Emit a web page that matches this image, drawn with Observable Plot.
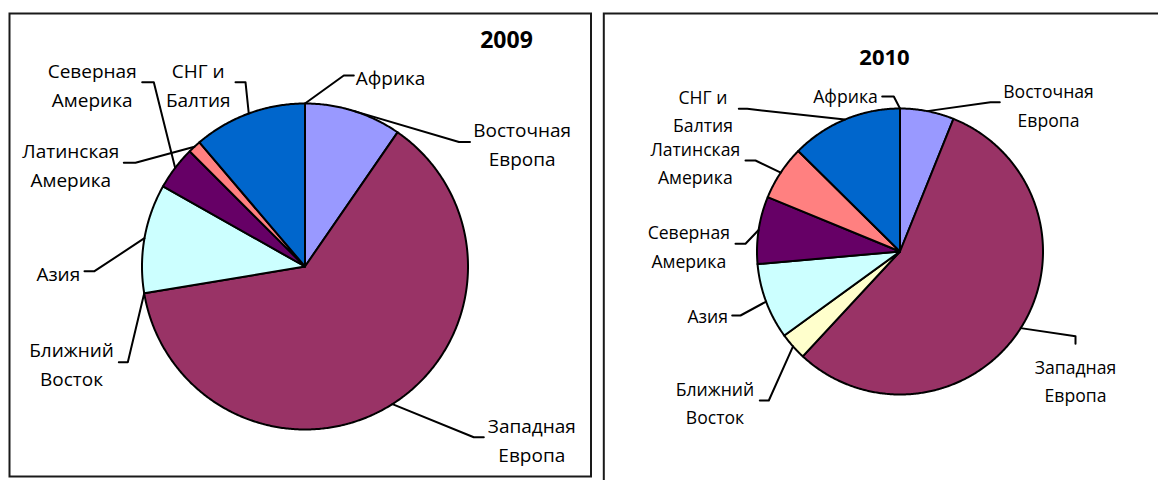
<!DOCTYPE html>
<html><head><meta charset="utf-8">
<script src="https://cdn.jsdelivr.net/npm/d3@7"></script>
<script src="https://cdn.jsdelivr.net/npm/@observablehq/plot@0.6"></script>
<style>
html,body{margin:0;padding:0;background:#fff;}
#wrap{display:flex;width:1158px;height:480px;overflow:hidden;}
#wrap>div{overflow:hidden;height:480px;flex:none;}
</style></head><body>
<div id="wrap"><div id="p2009"></div><div id="p2010"></div></div>
<script>
// ---- data ----
const regions = ["Восточная Европа", "Западная Европа", "Ближний Восток", "Азия",
                 "Северная Америка", "Латинская Америка", "СНГ и Балтия", "Африка"];
const colors = ["#9999FF", "#993366", "#FFFFCC", "#CCFFFF", "#660066", "#FF8080", "#0066CC", "#CCCCFF"];
const years = ["2009", "2010"];
const share2009 = [9.6, 62.7, 0, 10.8, 4.3, 1.3, 11.2, 0];
const share2010 = [6.1, 55.8, 3.1, 8.6, 7.6, 6.2, 12.6, 0];

// ---- layout (pixel offsets from the pie centre): label centre, elbow, stub end ----
const layout2009 = [
  [217.2, -124, 154, -124.5, 165, -124.5],
  [226.8, 172, 168.8, 170.7, 178.8, 170.7],
  [-233.5, 95.5, -177.2, 95.7, -186.2, 95.7],
  [-246.7, 4.7, -210.5, 4.7, -220.5, 4.7],
  [-212.8, -183.3, -151.2, -184.3, -162.8, -184.3],
  [-234.2, -103.3, -169.5, -103.7, -181.2, -103.7],
  [-106.8, -183.3, -59.5, -184.3, -69.5, -184.3],
  [85.5, -191, 38.8, -191, 48.8, -191]
];
const layout2010 = [
  [148.5, -148, 90.5, -149.3, 99.8, -149.3],
  [175.5, 127.4, 175.5, 84.7, 175.5, 92.3],
  [-185, 149.9, -131.2, 149, -140.2, 149],
  [-192.3, 62.2, -159.5, 64, -167.8, 64],
  [-211.2, -7, -154.5, -7.7, -164.5, -7.7],
  [-204.7, -90.6, -144.5, -91, -154.5, -91],
  [-197, -142.1, -152.8, -142.7, -161.2, -142.7],
  [-54.5, -157.8, -6.2, -155, -17.8, -155]
];

function splitLabel(s) { return s.replace(/ (?=[^ ]*$)/, "\n"); }

function pieChart(o) {
  const rows = regions.map((name, i) => ({name, value: o.shares[i], color: colors[i], i}));
  const arcs = d3.pie().sort(null).value(d => d.value)(rows);
  const slicePts = [], leaders = [], labels = [];
  arcs.forEach((a) => {
    const i = a.data.i;
    const span = a.endAngle - a.startAngle;
    if (span > 0) {
      slicePts.push({key: i, u: 0, v: 0, color: a.data.color});
      const n = Math.max(2, Math.ceil(span / (Math.PI / 360)));
      for (let k = 0; k <= n; k++) {
        const t = a.startAngle + span * k / n;
        slicePts.push({key: i, u: Math.sin(t), v: -Math.cos(t), color: a.data.color});
      }
    }
    const m = (a.startAngle + a.endAngle) / 2;
    const L = o.layout[i];
    leaders.push({key: i, u: Math.sin(m), v: -Math.cos(m)},
                 {key: i, u: L[2] / o.r, v: L[3] / o.r},
                 {key: i, u: L[4] / o.r, v: L[5] / o.r});
    labels.push({text: splitLabel(a.data.name), u: L[0] / o.r, v: L[1] / o.r});
  });
  return Plot.plot({
    width: o.width, height: 480,
    marginLeft: o.margins[0], marginTop: o.margins[1], marginRight: o.margins[2], marginBottom: o.margins[3],
    x: {domain: [-1, 1], range: [o.cx - o.r, o.cx + o.r], axis: null},
    y: {domain: [-1, 1], range: [o.cy - o.r, o.cy + o.r], axis: null},
    color: {type: "identity"},
    style: {fontFamily: "'Open Sans', sans-serif", background: "white", color: "black"},
    marks: [
      Plot.frame({stroke: "#1a1a1a", strokeWidth: 2}),
      Plot.line(slicePts, {x: "u", y: "v", z: "key", fill: "color", stroke: "black", strokeWidth: 2,
                           curve: "linear-closed", strokeLinejoin: "round"}),
      Plot.line(leaders, {x: "u", y: "v", z: "key", stroke: "black", strokeWidth: 2}),
      Plot.text(labels, {x: "u", y: "v", text: "text", fontSize: o.fontSize, lineHeight: o.lineHeight,
                         fill: "black", textAnchor: "middle"}),
      Plot.text([o.year], {x: o.title[0] / o.r, y: o.title[1] / o.r, text: d => d, fontSize: o.titleSize,
                           fontWeight: "bold", fill: "black", textAnchor: "middle"})
    ]
  });
}

document.getElementById("p2009").append(pieChart({
  year: years[0], shares: share2009, layout: layout2009, title: [201.5, -226.2],
  width: 597, cx: 304.5, cy: 266, r: 163, fontSize: 19, titleSize: 23, lineHeight: 1.54,
  margins: [9, 13, 6.5, 4]
}));
document.getElementById("p2010").append(pieChart({
  year: years[1], shares: share2010, layout: layout2010, title: [-15.5, -193.6],
  width: 561, cx: 302.5, cy: 251, r: 143, fontSize: 17.6, titleSize: 22, lineHeight: 1.6,
  margins: [6.3, 13, -20, -20]
}));
</script>
</body></html>
